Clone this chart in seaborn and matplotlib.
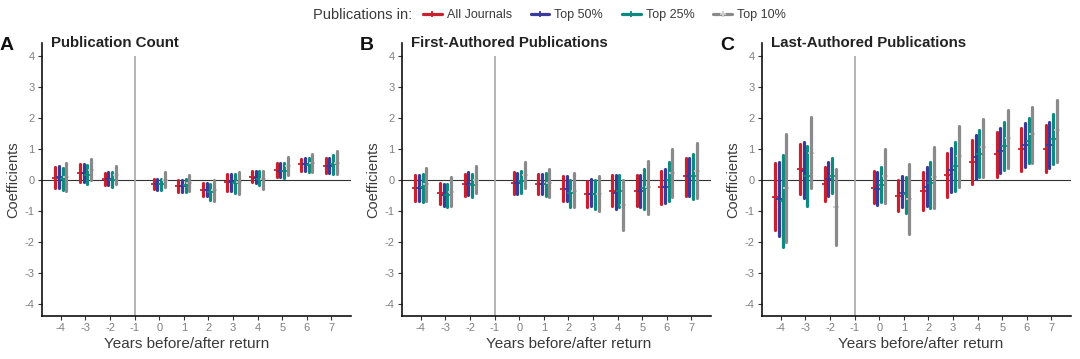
import numpy as np
import pandas as pd
import matplotlib
matplotlib.use("Agg")
import matplotlib.pyplot as plt
import seaborn as sns
from matplotlib.lines import Line2D

sns.set_theme(style="white")
plt.rcParams['font.family'] = ['Liberation Sans', 'DejaVu Sans']

# ---------------- data ----------------
years = [-4, -3, -2, 0, 1, 2, 3, 4, 5, 6, 7]
series = ["All Journals", "Top 50%", "Top 25%", "Top 10%"]
colors = ["#c8202f", "#3a3a9a", "#0f8a80", "#8a8a8a"]
panel_titles = ["Publication Count", "First-Authored Publications", "Last-Authored Publications"]
panel_letters = ["A", "B", "C"]

# Panel A: Publication Count (rows = series order)
count_est = [
    [0.07, 0.22, 0.02, -0.14, -0.19, -0.33, -0.08, 0.08, 0.32, 0.50, 0.45],
    [0.10, 0.22, 0.03, -0.15, -0.19, -0.33, -0.08, 0.07, 0.30, 0.50, 0.45],
    [0.03, 0.17, 0.01, -0.15, -0.17, -0.38, -0.10, 0.04, 0.30, 0.48, 0.50],
    [0.08, 0.33, 0.14, 0.01, -0.10, -0.33, -0.08, 0.02, 0.45, 0.55, 0.55],
]
count_lo = [
    [-0.28, -0.08, -0.18, -0.31, -0.39, -0.51, -0.35, -0.08, 0.10, 0.27, 0.22],
    [-0.26, -0.08, -0.18, -0.33, -0.39, -0.53, -0.35, -0.11, 0.09, 0.28, 0.22],
    [-0.33, -0.13, -0.23, -0.33, -0.39, -0.64, -0.42, -0.18, 0.06, 0.25, 0.19],
    [-0.37, -0.02, -0.15, -0.22, -0.37, -0.67, -0.45, -0.29, 0.16, 0.25, 0.18],
]
count_hi = [
    [0.41, 0.52, 0.23, 0.03, 0.01, -0.10, 0.18, 0.30, 0.53, 0.68, 0.70],
    [0.45, 0.50, 0.25, 0.03, 0.01, -0.10, 0.20, 0.30, 0.54, 0.71, 0.72],
    [0.39, 0.47, 0.25, 0.03, 0.04, -0.15, 0.20, 0.28, 0.55, 0.71, 0.81],
    [0.53, 0.68, 0.44, 0.24, 0.16, -0.02, 0.25, 0.30, 0.74, 0.85, 0.93],
]

# Panel B: First-Authored Publications
first_est = [
    [-0.25, -0.43, -0.15, -0.10, -0.12, -0.29, -0.46, -0.36, -0.35, -0.22, 0.11],
    [-0.25, -0.49, -0.14, -0.10, -0.12, -0.29, -0.46, -0.43, -0.35, -0.22, 0.11],
    [-0.23, -0.49, -0.16, -0.05, -0.14, -0.43, -0.46, -0.36, -0.27, -0.02, 0.12],
    [-0.14, -0.38, 0.00, 0.16, -0.11, -0.36, -0.45, -0.80, -0.22, 0.22, 0.29],
]
first_lo = [
    [-0.69, -0.77, -0.51, -0.45, -0.45, -0.69, -0.87, -0.86, -0.84, -0.78, -0.51],
    [-0.69, -0.84, -0.49, -0.46, -0.45, -0.69, -0.84, -0.95, -0.87, -0.76, -0.51],
    [-0.72, -0.87, -0.54, -0.43, -0.51, -0.87, -0.95, -0.87, -0.95, -0.67, -0.61],
    [-0.67, -0.84, -0.43, -0.25, -0.54, -0.87, -1.02, -1.63, -1.09, -0.57, -0.59],
]
first_hi = [
    [0.14, -0.10, 0.18, 0.24, 0.18, 0.12, -0.05, 0.14, 0.14, 0.30, 0.70],
    [0.17, -0.14, 0.24, 0.22, 0.18, 0.11, 0.02, 0.14, 0.17, 0.35, 0.72],
    [0.20, -0.12, 0.19, 0.30, 0.23, 0.00, -0.01, 0.16, 0.36, 0.59, 0.83],
    [0.38, 0.09, 0.46, 0.57, 0.36, 0.22, 0.11, 0.00, 0.61, 1.00, 1.18],
]

# Panel C: Last-Authored Publications
last_est = [
    [-0.54, 0.36, -0.13, -0.25, -0.52, -0.35, 0.17, 0.59, 0.82, 0.99, 1.01],
    [-0.63, 0.29, 0.02, -0.30, -0.43, -0.22, 0.32, 0.73, 0.94, 1.12, 1.11],
    [-0.68, 0.13, 0.13, -0.16, -0.47, -0.09, 0.45, 0.85, 1.10, 1.26, 1.33],
    [-0.25, 0.88, -0.88, 0.13, -0.61, 0.09, 0.76, 1.05, 1.35, 1.48, 1.62],
]
last_lo = [
    [-1.62, -0.45, -0.70, -0.76, -1.02, -0.97, -0.54, -0.14, 0.09, 0.27, 0.26],
    [-1.83, -0.59, -0.52, -0.81, -0.88, -0.84, -0.38, 0.02, 0.22, 0.42, 0.38],
    [-2.16, -0.83, -0.43, -0.73, -1.06, -0.90, -0.36, 0.08, 0.32, 0.54, 0.52],
    [-2.00, -0.27, -2.11, -0.76, -1.75, -0.91, -0.22, 0.10, 0.38, 0.54, 0.59],
]
last_hi = [
    [0.54, 1.15, 0.43, 0.27, -0.02, 0.26, 0.88, 1.29, 1.54, 1.69, 1.77],
    [0.59, 1.22, 0.59, 0.24, 0.11, 0.41, 1.02, 1.46, 1.66, 1.83, 1.87],
    [0.81, 1.08, 0.70, 0.40, 0.09, 0.59, 1.23, 1.61, 1.88, 2.00, 2.13],
    [1.49, 2.03, 0.36, 0.99, 0.52, 1.06, 1.73, 1.97, 2.27, 2.35, 2.59],
]

panel_data = [
    (count_est, count_lo, count_hi),
    (first_est, first_lo, first_hi),
    (last_est, last_lo, last_hi),
]

# long-form table: each (series, year) group holds lo, est, hi;
# the median gives the estimate, min/max give the interval
rows = []
for p, (est, lo, hi) in enumerate(panel_data):
    for si, s in enumerate(series):
        for yi, yr in enumerate(years):
            for v in (lo[si][yi], est[si][yi], hi[si][yi]):
                rows.append({"panel": p, "series": s, "year": yr, "value": v})
df = pd.DataFrame(rows)

# ---------------- figure ----------------
fig = plt.figure(figsize=(10.8, 3.59), dpi=100)
W, H = 1080.0, 359.0
tick_col = "#808080"
lab_col = "#3a3a3a"
xlabel_centers = [0.469, 0.539, 0.513]

for p in range(3):
    left = (41.7 + 360 * p) / W
    ax = fig.add_axes([left, 43.0 / H, 309.3 / W, 273.0 / H])
    ax.axhline(0, color="#333333", lw=0.8, zorder=1)
    ax.vlines(-1, -4.4, 4, color="#a8a8a8", lw=1.2, zorder=1)
    sns.pointplot(
        data=df[df.panel == p], x="year", y="value", hue="series",
        hue_order=series, palette=colors, estimator="median",
        errorbar=lambda v: (v.min(), v.max()), native_scale=True,
        dodge=0.45, linestyle="none", markers="+", markersize=4.5,
        markeredgewidth=1.3, err_kws={"linewidth": 2.3},
        legend=False, ax=ax,
    )
    for ln in ax.lines:
        if ln.get_marker() == "+" and matplotlib.colors.to_hex(ln.get_color()) == colors[3]:
            ln.set_markeredgecolor("#d0d0d0")
    ax.set_xlim(-4.78, 7.8)
    ax.set_ylim(-4.4, 4.42)
    ax.set_xticks(range(-4, 8))
    ax.set_xticklabels([str(t) for t in range(-4, 8)])
    ax.set_yticks(range(-4, 5))
    ax.set_yticklabels([str(t) for t in range(-4, 5)])
    ax.tick_params(axis="both", which="both", length=3, width=0.8, color="#333333",
                   labelcolor=tick_col, labelsize=8, pad=2, left=True, bottom=True)
    sns.despine(ax=ax)
    for side in ("left", "bottom"):
        ax.spines[side].set_color("#111111")
        ax.spines[side].set_linewidth(1.2)
    ax.set_xlabel("Years before/after return", fontsize=11, color=lab_col)
    ax.xaxis.set_label_coords(xlabel_centers[p], -0.077)
    ax.set_ylabel("Coefficients", fontsize=10.5, color=lab_col, labelpad=3)
    ax.text(0.03, 1.0, panel_titles[p], transform=ax.transAxes, fontsize=10.8,
            fontweight="bold", color="#222222", va="center", ha="left")
    fig.text((0 + 360 * p) / W, 1 - 45.0 / H, panel_letters[p], fontsize=14,
             fontweight="bold", color="#111111", va="center", ha="left",
             family=["Liberation Sans Narrow", "Liberation Sans", "DejaVu Sans"])

handles = [Line2D([], [], color=c, lw=2.3, marker="+", ms=4.5, mew=1.3,
                  markeredgecolor=("#d0d0d0" if i == 3 else c))
           for i, c in enumerate(colors)]
fig.text(313 / W, 1 - 15 / H, "Publications in:", fontsize=10.5, color=lab_col,
         va="center", ha="left")
fig.legend(handles, series, loc="center left", bbox_to_anchor=(418 / W, 1 - 15 / H),
           ncol=4, frameon=False, fontsize=9, handlelength=1.5, handletextpad=0.4,
           columnspacing=1.5, borderaxespad=0, labelcolor=lab_col)

fig.savefig("out.png", dpi=100)
